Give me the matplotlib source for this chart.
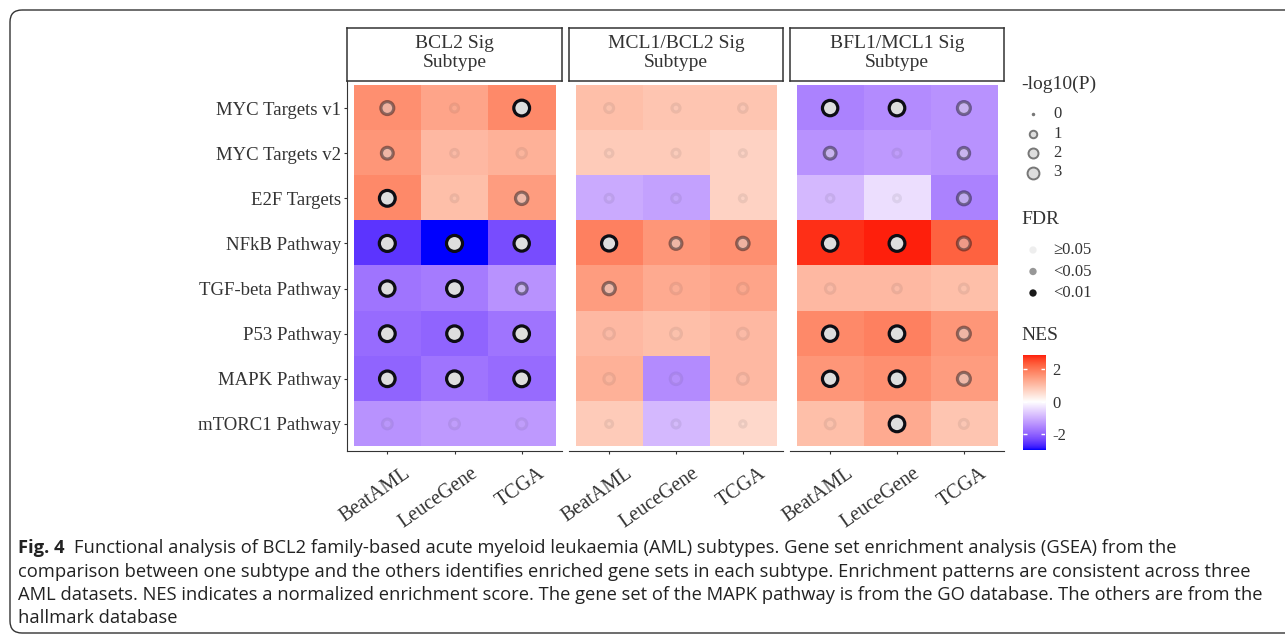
import numpy as np
import matplotlib

matplotlib.use("Agg")
import matplotlib.pyplot as plt
from matplotlib import font_manager
from matplotlib.colors import ListedColormap, Normalize
from matplotlib.patches import FancyBboxPatch
from matplotlib.transforms import Bbox, TransformedBbox, blended_transform_factory, offset_copy


W, H = 1285, 638

PATHWAYS = ["MYC Targets v1", "MYC Targets v2", "E2F Targets", "NFkB Pathway",
            "TGF-beta Pathway", "P53 Pathway", "MAPK Pathway", "mTORC1 Pathway"]
DATASETS = ["BeatAML", "LeuceGene", "TCGA"]
SUBTYPES = ["BCL2 Sig\nSubtype", "MCL1/BCL2 Sig\nSubtype", "BFL1/MCL1 Sig\nSubtype"]

# NES, rows = pathways, cols = datasets
NES_BCL2 = [[1.7, 1.4, 1.8], [1.6, 1.1, 1.2], [1.8, 1.0, 1.5], [-2.6, -3.0, -2.3],
            [-1.8, -1.7, -1.4], [-1.9, -2.0, -1.8], [-2.0, -1.8, -1.9], [-1.4, -1.3, -1.3]]
NES_MCL1 = [[1.0, 0.9, 0.9], [0.8, 0.8, 0.7], [-1.1, -1.2, 0.7], [1.9, 1.6, 1.7],
            [1.5, 1.3, 1.4], [1.1, 1.0, 1.1], [1.2, -1.5, 1.1], [0.8, -0.9, 0.6]]
NES_BFL1 = [[-1.6, -1.5, -1.4], [-1.4, -1.3, -1.4], [-0.9, -0.4, -1.6], [2.8, 2.9, 2.3],
            [1.1, 1.1, 1.0], [1.8, 1.9, 1.6], [1.6, 1.7, 1.5], [1.0, 1.3, 0.9]]

# -log10(P)
LOGP_BCL2 = [[2.0, 0.6, 3.2], [1.6, 0.5, 0.9], [3.2, 0.4, 1.8], [3.3, 3.3, 3.0],
             [3.0, 3.2, 1.3], [3.2, 3.1, 3.1], [3.1, 3.2, 3.2], [1.0, 1.0, 1.1]]
LOGP_MCL1 = [[0.8, 0.6, 0.7], [0.5, 0.6, 0.4], [0.6, 0.7, 0.4], [2.9, 1.6, 1.8],
             [1.8, 1.2, 1.2], [1.2, 1.3, 1.3], [1.2, 1.5, 1.3], [0.4, 0.6, 0.3]]
LOGP_BFL1 = [[3.0, 3.1, 2.0], [1.6, 0.6, 1.5], [0.5, 0.4, 2.0], [3.1, 3.2, 2.0],
             [0.9, 0.7, 0.8], [3.0, 3.1, 2.0], [3.0, 3.2, 2.0], [1.0, 3.1, 0.8]]

# FDR class: 0 = >=0.05, 1 = <0.05, 2 = <0.01
FDR_BCL2 = [[1, 0, 2], [1, 0, 0], [2, 0, 1], [2, 2, 2], [2, 2, 1], [2, 2, 2], [2, 2, 2], [0, 0, 0]]
FDR_MCL1 = [[0, 0, 0], [0, 0, 0], [0, 0, 0], [2, 1, 1], [1, 0, 0], [0, 0, 0], [0, 0, 0], [0, 0, 0]]
FDR_BFL1 = [[2, 2, 1], [1, 0, 1], [0, 0, 1], [2, 2, 1], [0, 0, 0], [2, 2, 1], [2, 2, 1], [0, 2, 0]]

FDR_LABELS = ["\u22650.05", "<0.05", "<0.01"]
FDR_ALPHA = [0.07, 0.45, 1.0]
SIZE_BREAKS = [0, 1, 2, 3]
NES_TICKS = [2, 0, -2]

CAPTION = [
    "Functional analysis of BCL2 family-based acute myeloid leukaemia (AML) subtypes. Gene set enrichment analysis (GSEA) from the",
    "comparison between one subtype and the others identifies enriched gene sets in each subtype. Enrichment patterns are consistent across three",
    "AML datasets. NES indicates a normalized enrichment score. The gene set of the MAPK pathway is from the GO database. The others are from the",
    "hallmark database",
]

SERIF = "Liberation Serif"
M_RGB = np.array([[0.4124, 0.3576, 0.1805], [0.2126, 0.7152, 0.0722], [0.0193, 0.1192, 0.9505]])
WHITE_XYZ = np.array([0.95047, 1.0, 1.08883])


def to_lab(rgb):
    c = np.asarray(rgb, float)
    lin = np.where(c <= 0.04045, c / 12.92, ((c + 0.055) / 1.055) ** 2.4)
    xyz = M_RGB @ lin / WHITE_XYZ
    d = 6 / 29
    f = np.where(xyz > d ** 3, np.cbrt(xyz), xyz / (3 * d * d) + 4 / 29)
    return np.array([116 * f[1] - 16, 500 * (f[0] - f[1]), 200 * (f[1] - f[2])])


def from_lab(lab):
    fy = (lab[0] + 16) / 116
    f = np.array([fy + lab[1] / 500, fy, fy - lab[2] / 200])
    d = 6 / 29
    xyz = np.where(f > d, f ** 3, 3 * d * d * (f - 4 / 29)) * WHITE_XYZ
    lin = np.clip(np.linalg.solve(M_RGB, xyz), 0, 1)
    return np.clip(np.where(lin <= 0.0031308, 12.92 * lin, 1.055 * lin ** (1 / 2.4) - 0.055), 0, 1)


def gradient2():
    # blue - white - red, interpolated in Lab like ggplot's scale_fill_gradient2
    low, mid, high = to_lab([0, 0, 1]), to_lab([1, 1, 1]), to_lab([1, 0, 0])
    cols = []
    for t in np.linspace(0, 1, 256):
        if t < 0.5:
            lab = low + (mid - low) * (t / 0.5)
        else:
            lab = mid + (high - mid) * ((t - 0.5) / 0.5)
        cols.append(from_lab(lab))
    return ListedColormap(cols)


def px_axes(fig, x0, y0, x1, y1):
    return fig.add_axes([x0 / W, 1 - y1 / H, (x1 - x0) / W, (y1 - y0) / H])


def point_size(v):
    d = 2.0 + 14.0 * np.sqrt(np.asarray(v, float) / 3.3)
    return (d * 0.72) ** 2


def main():
    plt.rcParams["font.family"] = [SERIF, "DejaVu Serif"]
    fig = plt.figure(figsize=(W / 100, H / 100), dpi=100)
    cmap = gradient2()
    norm = Normalize(-3.0, 3.0)

    nes_all = [NES_BCL2, NES_MCL1, NES_BFL1]
    logp_all = [LOGP_BCL2, LOGP_MCL1, LOGP_BFL1]
    fdr_all = [FDR_BCL2, FDR_MCL1, FDR_BFL1]
    panel_x = [(347, 562), (569, 783), (790, 1004)]
    clip = TransformedBbox(Bbox.from_extents(197 / W, 0, 1, 1), fig.transFigure)

    for k, (x0, x1) in enumerate(panel_x):
        ax = px_axes(fig, x0, 81, x1, 451)
        nes = np.array(nes_all[k])
        ax.imshow(nes, cmap=cmap, norm=norm, extent=(-0.5, 2.5, 7.5, -0.5),
                  aspect="auto", interpolation="nearest")
        logp = np.array(logp_all[k])
        fdr = np.array(fdr_all[k])
        yy, xx = np.mgrid[0:8, 0:3]
        alpha = np.array(FDR_ALPHA)[fdr.ravel()]
        face = [(0.87, 0.87, 0.87, a) for a in alpha]
        edge = [(0.05, 0.05, 0.08, a) for a in alpha]
        ax.scatter(xx.ravel(), yy.ravel(), s=point_size(logp.ravel()), c=face,
                   edgecolors=edge, linewidths=2.3, zorder=3)
        ax.set_xlim(-0.6, 2.6)
        ax.set_ylim(7.6, -0.6)
        for side in ("top", "right"):
            ax.spines[side].set_visible(False)
        ax.spines["bottom"].set_color("#333333")
        ax.spines["left"].set_color("#333333")
        ax.spines["left"].set_visible(k == 0)
        ax.set_xticks(range(3))
        ax.set_xticklabels([])
        ax.tick_params(axis="x", length=2.5, color="#333333")
        if k == 0:
            ax.set_yticks(range(8))
            ax.set_yticklabels(PATHWAYS, fontsize=13.5, color="#333333")
            ax.tick_params(axis="y", length=2.5, pad=1.5, color="#333333")
            for lbl in ax.get_yticklabels():
                lbl.set_clip_box(clip)
                lbl.set_clip_on(True)
        else:
            ax.set_yticks([])
        trans = offset_copy(blended_transform_factory(ax.transData, ax.transAxes),
                            fig=fig, x=16, y=-13, units="dots")
        for j, name in enumerate(DATASETS):
            ax.text(j, 0, name, transform=trans, rotation=35, rotation_mode="anchor",
                    ha="right", va="top", fontsize=14.5, color="#333333")

        sax = px_axes(fig, x0, 28, x1, 81)
        sax.set_xticks([])
        sax.set_yticks([])
        for sp in sax.spines.values():
            sp.set_color("#333333")
            sp.set_linewidth(1.1)
        sax.text(0.5, 0.52, SUBTYPES[k], ha="center", va="center", fontsize=14,
                 color="#333333", linespacing=1.15, transform=sax.transAxes)

    # overlay in pixel coordinates for frame, legends and caption
    ov = fig.add_axes([0, 0, 1, 1], zorder=-1)
    ov.set_xlim(0, W)
    ov.set_ylim(H, 0)
    ov.axis("off")
    ov.add_patch(FancyBboxPatch((10, 10), W + 20, 623, boxstyle="round,pad=0,rounding_size=12",
                                fc="none", ec="#333333", lw=1.0))

    top = fig.add_axes([0, 0, 1, 1], zorder=5)
    top.set_xlim(0, W)
    top.set_ylim(H, 0)
    top.axis("off")
    top.patch.set_alpha(0)

    # size legend
    top.text(1021, 84, "-log10(P)", fontsize=14, va="center", color="#333333")
    for i, v in enumerate(SIZE_BREAKS):
        y = 114 + i * 19.5
        top.scatter([1033], [y], s=point_size(v) * 0.6, c=[(0.87, 0.87, 0.87)],
                    edgecolors="#777777", linewidths=1.4)
        top.text(1053, y, str(v), fontsize=12, va="center", color="#333333")

    # FDR legend
    top.text(1021, 219, "FDR", fontsize=14, va="center", color="#333333")
    for i, lab in enumerate(FDR_LABELS):
        y = 250 + i * 21.5
        top.scatter([1033], [y], s=28, c=[(0.1, 0.1, 0.1, FDR_ALPHA[i])], edgecolors="none")
        top.text(1053, y, lab, fontsize=12, va="center", color="#333333")

    # NES colorbar
    top.text(1021, 336, "NES", fontsize=14, va="center", color="#333333")
    vmin = float(np.min([NES_BCL2, NES_MCL1, NES_BFL1]))
    vmax = float(np.max([NES_BCL2, NES_MCL1, NES_BFL1]))
    cax = px_axes(fig, 1023, 355, 1045, 450)
    grad = np.linspace(vmax, vmin, 200)[:, None]
    cax.imshow(grad, cmap=cmap, norm=norm, extent=(0, 1, vmin, vmax), aspect="auto")
    cax.set_xlim(0, 1)
    cax.set_ylim(vmin, vmax)
    cax.set_xticks([])
    cax.set_yticks(NES_TICKS)
    cax.set_yticklabels([str(t) for t in NES_TICKS], fontsize=12, color="#333333")
    cax.yaxis.tick_right()
    cax.tick_params(axis="y", length=0, pad=5)
    for t in NES_TICKS:
        cax.hlines(t, 0, 0.2, color="white", lw=1)
        cax.hlines(t, 0.8, 1, color="white", lw=1)
    for sp in cax.spines.values():
        sp.set_visible(False)

    # caption, sized so the longest line fits inside the box
    names = {f.name for f in font_manager.fontManager.ttflist}
    cap_font = "Liberation Sans Narrow" if "Liberation Sans Narrow" in names else "Open Sans"
    ys = [548, 572, 595, 618]
    head = top.text(18, ys[0], "Fig. 4", fontsize=12, family=cap_font, weight="bold",
                    va="center", color="#222222")
    lines = []
    for i, line in enumerate(CAPTION):
        lines.append(top.text(18, ys[i], line, fontsize=12, family=cap_font,
                              va="center", color="#222222"))
    for _ in range(3):
        fig.canvas.draw()
        width = max(t.get_window_extent().width for t in lines[1:3])
        size = lines[1].get_fontsize() * 1250 / width
        for t in lines + [head]:
            t.set_fontsize(size)
    fig.canvas.draw()
    hw = head.get_window_extent().width
    lines[0].set_x(18 + hw + 9)

    fig.savefig("out.png", dpi=100)


if __name__ == "__main__":
    main()
